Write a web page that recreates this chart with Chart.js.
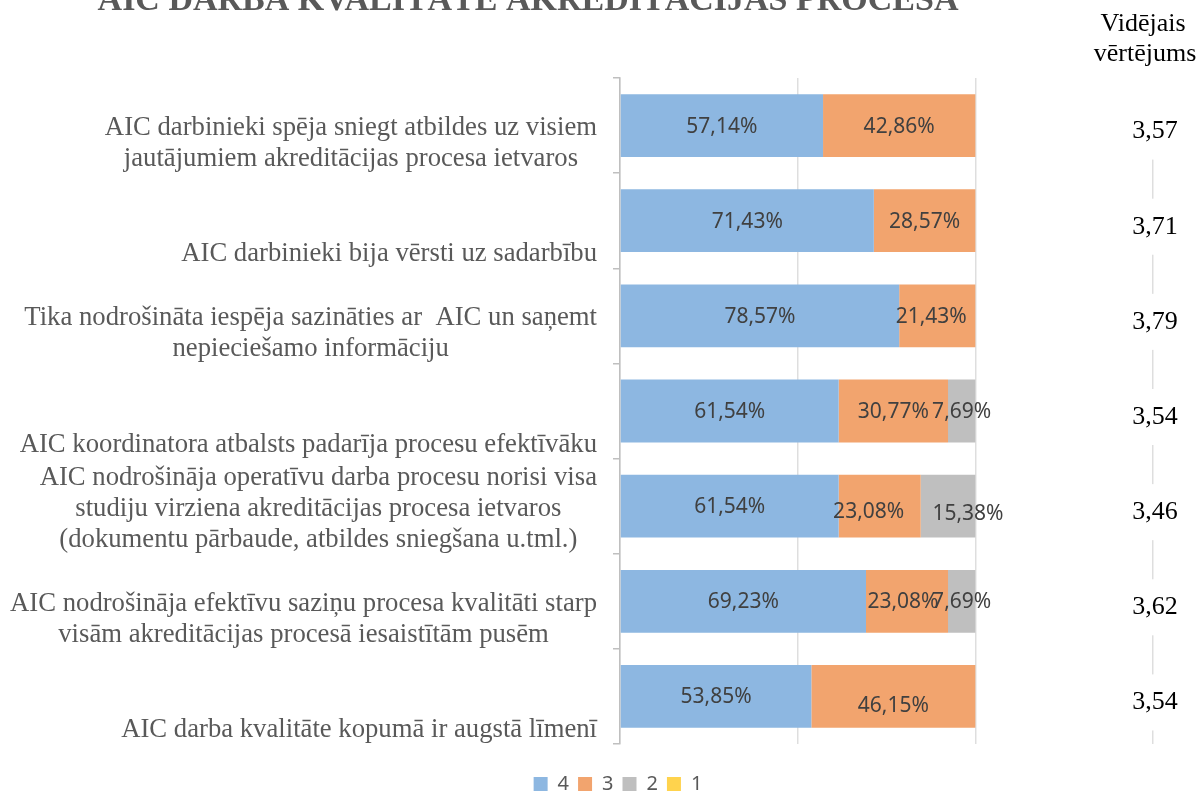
<!DOCTYPE html>
<html>
<head>
<meta charset="utf-8">
<script src="https://cdn.jsdelivr.net/npm/chart.js@4.4.1/dist/chart.umd.min.js"></script>
<style>
  html, body { margin: 0; padding: 0; background: #fff; overflow: hidden; }
  #wrap { position: relative; width: 1200px; height: 804px; }
</style>
</head>
<body>
<div id="wrap"><canvas id="chart"></canvas></div>
<script>
// Question texts (left column), one array of lines per bar
const categories = [
  ['AIC darbinieki spēja sniegt atbildes uz visiem', 'jautājumiem akreditācijas procesa ietvaros'],
  ['AIC darbinieki bija vērsti uz sadarbību'],
  ['Tika nodrošināta iespēja sazināties ar  AIC un saņemt', 'nepieciešamo informāciju'],
  ['AIC koordinatora atbalsts padarīja procesu efektīvāku'],
  ['AIC nodrošināja operatīvu darba procesu norisi visa', 'studiju virziena akreditācijas procesa ietvaros', '(dokumentu pārbaude, atbildes sniegšana u.tml.)'],
  ['AIC nodrošināja efektīvu saziņu procesa kvalitāti starp', 'visām akreditācijas procesā iesaistītām pusēm'],
  ['AIC darba kvalitāte kopumā ir augstā līmenī']
];

// Share of answers per rating (%)
const rating4 = [57.14, 71.43, 78.57, 61.54, 61.54, 69.23, 53.85];
const rating3 = [42.86, 28.57, 21.43, 30.77, 23.08, 23.08, 46.15];
const rating2 = [0, 0, 0, 7.69, 15.38, 7.69, 0];
const rating1 = [0, 0, 0, 0, 0, 0, 0];

// Average rating column on the right
const averages = [3.57, 3.71, 3.79, 3.54, 3.46, 3.62, 3.54];

const title = 'AIC DARBA KVALITĀTE AKREDITĀCIJAS PROCESĀ';
const avgHeader = ['Vidējais', 'vērtējums'];

const SERIF = '"Liberation Serif", "Times New Roman", serif';
const SANS = '"Noto Sans", "Open Sans", sans-serif';

// labels that were dragged by hand in the original: "dataset-row": [dx, dy]
const labelNudge = {
  '1-2': [-6, 0],
  '1-4': [-11, 5],
  '2-4': [20, 7],
  '1-5': [-4, 0],
  '1-6': [0, 9]
};

const comma = (v, d) => v.toFixed(d).replace('.', ',');

// Draws the question texts, bar labels, average column and the (cropped) title
const extras = {
  id: 'extras',
  afterDraw(chart) {
    const ctx = chart.ctx;
    const y = chart.scales.y;
    const x = chart.scales.x;
    const band = (y.bottom - y.top) / categories.length;

    ctx.save();

    // question texts, bottom aligned inside each band, lines centred in a block
    ctx.font = '26.7px ' + SERIF;
    ctx.fillStyle = '#595959';
    ctx.textAlign = 'center';
    ctx.textBaseline = 'middle';
    categories.forEach((lines, i) => {
      const bandBottom = y.getPixelForValue(i) + band / 2;
      const maxW = Math.max(...lines.map(l => ctx.measureText(l).width));
      const cx = 597 - maxW / 2;
      lines.forEach((line, j) => {
        ctx.fillText(line, cx, bandBottom - 14 - (lines.length - 1 - j) * 31);
      });
    });

    // value labels inside the bars
    ctx.font = '21px ' + SANS;
    ctx.fillStyle = '#404040';
    chart.data.datasets.forEach((ds, di) => {
      const meta = chart.getDatasetMeta(di);
      meta.data.forEach((bar, i) => {
        const v = ds.data[i];
        if (!v) return;
        const p = bar.getProps(['x', 'y', 'base'], true);
        const [dx, dy] = labelNudge[di + '-' + i] || [0, 0];
        ctx.fillText(comma(v, 2) + '%', (p.x + p.base) / 2 + dx, p.y + 1 + dy);
      });
    });

    // average column, boxes mask the outer gridline like the text boxes do
    const colX = x.getPixelForValue(150);
    ctx.fillStyle = '#fff';
    ctx.fillRect(colX - 70, 0, 140, 104);
    ctx.font = '26px ' + SERIF;
    averages.forEach((v, i) => {
      const cy = y.getPixelForValue(i) + 6;
      ctx.fillStyle = '#fff';
      ctx.fillRect(colX - 40, cy - 28, 80, 56);
      ctx.fillStyle = '#000';
      ctx.fillText(comma(v, 2), colX + 2, cy);
    });
    avgHeader.forEach((t, i) => ctx.fillText(t, colX - 10 + i * 2, 24 + i * 30));

    // title, mostly cut off by the top edge
    ctx.font = 'bold 34px ' + SERIF;
    ctx.fillStyle = '#595959';
    ctx.textBaseline = 'alphabetic';
    ctx.fillText(title, 528, 10);

    ctx.restore();
  }
};

new Chart(document.getElementById('chart'), {
  type: 'bar',
  data: {
    labels: categories,
    datasets: [
      { label: '4', data: rating4, backgroundColor: '#8DB7E1' },
      { label: '3', data: rating3, backgroundColor: '#F2A46E' },
      { label: '2', data: rating2, backgroundColor: '#BFBFBF' },
      { label: '1', data: rating1, backgroundColor: '#FFD34D' }
    ]
  },
  options: {
    indexAxis: 'y',
    responsive: true,
    maintainAspectRatio: false,
    animation: false,
    datasets: {
      bar: { categoryPercentage: 1, barPercentage: 0.66, borderWidth: 0 }
    },
    layout: { padding: { left: 36, right: 0, top: 78, bottom: 0 } },
    scales: {
      x: {
        stacked: true,
        min: 0,
        max: 150,
        z: 1,
        ticks: { display: false, stepSize: 50 },
        border: { display: false },
        grid: { color: 'rgba(0,0,0,0.13)', lineWidth: 1.5, drawTicks: false },
        afterFit(scale) { scale.height = 21; }
      },
      y: {
        stacked: true,
        ticks: { display: false },
        border: { color: '#BFBFBF', width: 1.5 },
        grid: { drawOnChartArea: false, color: '#BFBFBF', tickLength: 7, lineWidth: 1.5, offset: true },
        afterFit(scale) { scale.width = 584; }
      },
      // empty strip on the right that holds the average column
      yRight: {
        type: 'category',
        position: 'right',
        ticks: { display: false },
        border: { display: false },
        grid: { display: false },
        afterFit(scale) { scale.width = 47; }
      }
    },
    plugins: {
      tooltip: { enabled: false },
      legend: {
        position: 'bottom',
        labels: {
          boxWidth: 14,
          boxHeight: 14,
          padding: 9,
          color: '#595959',
          font: { family: SANS, size: 20 }
        }
      }
    }
  },
  plugins: [extras]
});
</script>
</body>
</html>
